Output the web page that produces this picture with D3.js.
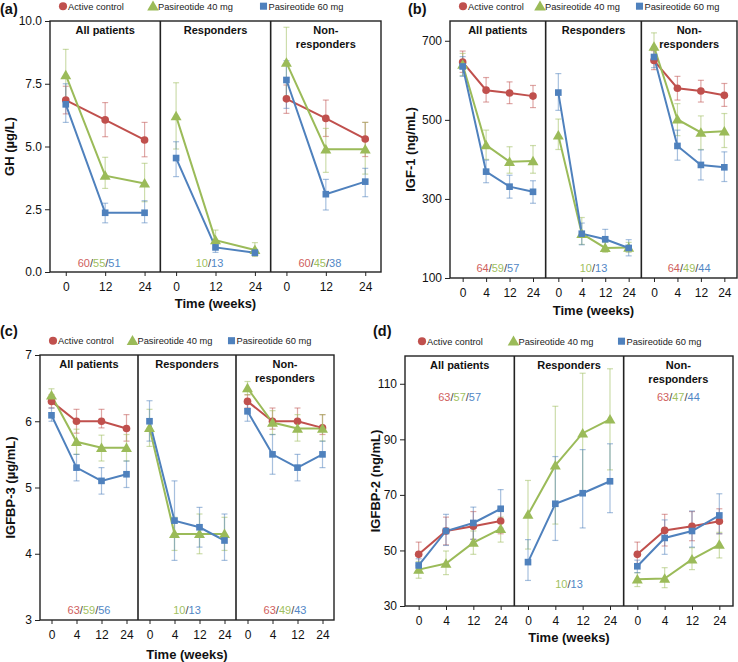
<!DOCTYPE html>
<html><head><meta charset="utf-8">
<script src="https://cdn.jsdelivr.net/npm/d3@7"></script>
<style>body{margin:0;background:#fff}svg{font-family:Arial,"Liberation Sans",sans-serif}</style>
</head><body><svg id="c" width="738" height="662"></svg>
<script>
// ---------------- data ----------------
const groupTitles = [["All patients"], ["Responders"], ["Non-", "responders"]];
const seriesNames = ["Active control", "Pasireotide 40 mg", "Pasireotide 60 mg"];
const seriesColors = ["#c0504d", "#9bbb59", "#4f81bd"];
const nColors = ["#d0605d", "#9fbf5f", "#5187c6"];

// (a) GH
const ghWeeks = ["0", "12", "24"];
const ghTicks = [0, 2.5, 5, 7.5, 10];
const ghN = [["60", "55", "51"], [null, "10", "13"], ["60", "45", "38"]];
const ghCtrl   = [[6.85, 6.06, 5.26], null, [6.90, 6.12, 5.30]];
const ghCtrlLo = [[6.30, 5.39, 4.59], null, [6.32, 5.40, 4.60]];
const ghCtrlHi = [[7.40, 6.75, 5.96], null, [7.45, 6.85, 5.96]];
const gh40   = [[7.85, 3.84, 3.53], [6.21, 1.27, 0.88], [8.34, 4.89, 4.89]];
const gh40Lo = [[6.80, 3.33, 2.80], [4.90, 0.95, 0.62], [7.00, 3.97, 3.90]];
const gh40Hi = [[8.87, 4.57, 4.33], [7.54, 1.67, 1.17], [9.75, 5.72, 5.96]];
const gh60   = [[6.68, 2.36, 2.36], [4.54, 0.98, 0.77], [7.65, 3.10, 3.60]];
const gh60Lo = [[5.96, 1.96, 1.96], [3.80, 0.78, 0.65], [6.52, 2.47, 3.00]];
const gh60Hi = [[7.50, 2.74, 2.84], [5.19, 1.20, 0.90], [8.42, 3.69, 4.13]];

// (b) IGF-1
const igfWeeks = ["0", "4", "12", "24"];
const igfTicks = [100, 300, 500, 700];
const igfN = [["64", "59", "57"], [null, "10", "13"], ["64", "49", "44"]];
const igfCtrl   = [[646, 575, 568, 560], null, [650, 580, 573, 562]];
const igfCtrlLo = [[620, 545, 541, 531], null, [627, 550, 545, 534]];
const igfCtrlHi = [[674, 607, 596, 587], null, [675, 610, 600, 592]];
const igf40   = [[640, 436, 394, 396], [461, 212, 176, 177], [685, 501, 468, 471]];
const igf40Lo = [[612, 400, 365, 365], [425, 185, 165, 165], [650, 460, 425, 430]];
const igf40Hi = [[668, 474, 432, 435], [502, 253, 190, 190], [720, 541, 510, 516]];
const igf60   = [[635, 369, 331, 318], [569, 212, 198, 176], [659, 434, 386, 380]];
const igf60Lo = [[610, 341, 302, 289], [524, 184, 176, 156], [632, 398, 348, 344]];
const igf60Hi = [[660, 398, 360, 346], [617, 239, 223, 197], [685, 474, 424, 419]];

// (c) IGFBP-3
const bp3Weeks = ["0", "4", "12", "24"];
const bp3Ticks = [3, 4, 5, 6, 7];
const bp3N = [["63", "59", "56"], [null, "10", "13"], ["63", "49", "43"]];
const bp3Ctrl   = [[6.30, 6.00, 6.00, 5.89], null, [6.30, 6.00, 6.00, 5.90]];
const bp3CtrlLo = [[6.20, 5.82, 5.90, 5.70], null, [6.20, 5.88, 5.88, 5.80]];
const bp3CtrlHi = [[6.40, 6.18, 6.18, 6.10], null, [6.40, 6.20, 6.20, 6.10]];
const bp340   = [[6.39, 5.69, 5.60, 5.60], [5.90, 4.30, 4.30, 4.30], [6.50, 5.98, 5.89, 5.89]];
const bp340Lo = [[6.29, 5.50, 5.40, 5.40], [5.62, 4.05, 4.00, 4.05], [6.40, 5.80, 5.70, 5.70]];
const bp340Hi = [[6.49, 5.88, 5.79, 5.80], [6.18, 4.55, 4.60, 4.55], [6.60, 6.16, 6.10, 6.10]];
const bp360   = [[6.09, 5.30, 5.10, 5.20], [6.00, 4.50, 4.40, 4.20], [6.15, 5.50, 5.30, 5.50]];
const bp360Lo = [[6.00, 5.10, 4.90, 5.00], [5.70, 3.90, 4.10, 3.90], [6.00, 5.20, 5.10, 5.30]];
const bp360Hi = [[6.20, 5.50, 5.30, 5.40], [6.31, 5.10, 4.70, 4.60], [6.30, 5.80, 5.50, 5.70]];

// (d) IGFBP-2
const bp2Weeks = ["0", "4", "12", "24"];
const bp2Ticks = [30, 50, 70, 90, 110];
const bp2N = [["63", "57", "57"], [null, "10", "13"], ["63", "47", "44"]];
const bp2Ctrl   = [[48.6, 57.0, 58.7, 60.6], null, [48.6, 57.2, 58.7, 60.5]];
const bp2CtrlLo = [[44.5, 52.0, 54.0, 56.0], null, [44.5, 51.6, 53.5, 56.0]];
const bp2CtrlHi = [[53.0, 62.0, 64.0, 65.0], null, [53.0, 63.0, 64.0, 65.0]];
const bp240   = [[43.1, 45.3, 52.8, 57.8], [62.9, 80.6, 92.2, 97.2], [39.6, 39.9, 46.8, 52.1]];
const bp240Lo = [[40.0, 41.3, 48.6, 53.0], [50.5, 59.5, 70.6, 79.0], [37.0, 36.6, 43.1, 47.3]];
const bp240Hi = [[46.0, 49.8, 57.0, 62.0], [75.2, 101.9, 113.8, 115.4], [42.0, 43.8, 51.0, 56.5]];
const bp260   = [[44.6, 57.0, 59.9, 65.0], [45.8, 66.8, 70.6, 74.9], [44.3, 54.5, 57.0, 62.6]];
const bp260Lo = [[42.0, 51.8, 54.0, 58.0], [39.2, 53.6, 58.1, 63.6], [42.0, 48.6, 51.2, 56.0]];
const bp260Hi = [[47.0, 63.0, 65.6, 71.9], [53.9, 83.8, 86.3, 88.4], [46.5, 61.0, 64.2, 70.4]];

// ---------------- drawing ----------------
const svg = d3.select("#c");
const symbols = [d3.symbolCircle, d3.symbolTriangle, d3.symbolSquare];
const symSizes = [46, 52, 44];

function drawPanel(o) {
  const root = svg.append("g");
  const y = d3.scaleLinear().domain(o.domain).range([o.bottom, o.top]);
  const subW = (o.right - o.left) / 3;
  const errG = root.append("g"), lineG = root.append("g"), markG = root.append("g");

  for (let s = 0; s < 3; s++) {
    const x0 = o.left + s * subW, x1 = x0 + subW, xc = (x0 + x1) / 2;
    const x = d3.scalePoint().domain(o.weeks).range([x0, x1]).padding(o.pad);
    const ax = root.append("g").attr("transform", `translate(0,${o.bottom})`)
      .call(d3.axisBottom(x).tickSize(4).tickPadding(6));
    ax.select(".domain").remove();
    ax.selectAll("text").attr("font-size", 12).attr("fill", "#111").attr("font-family", null);
    ax.selectAll("line").attr("stroke", "#222");

    o.series.forEach((ser, k) => {
      const vals = ser.mean[s];
      if (!vals) return;
      const pts = o.weeks.map((w, i) => ({ w, v: vals[i], lo: ser.lo[s][i], hi: ser.hi[s][i] }));
      const eg = errG.append("g").attr("stroke", seriesColors[k]).attr("stroke-opacity", 0.5).attr("stroke-width", 1.2);
      pts.forEach(p => {
        const cx = x(p.w);
        eg.append("line").attr("x1", cx).attr("x2", cx).attr("y1", y(p.lo)).attr("y2", y(p.hi));
        eg.append("line").attr("x1", cx - 3).attr("x2", cx + 3).attr("y1", y(p.lo)).attr("y2", y(p.lo));
        eg.append("line").attr("x1", cx - 3).attr("x2", cx + 3).attr("y1", y(p.hi)).attr("y2", y(p.hi));
      });
      lineG.append("path").datum(pts)
        .attr("d", d3.line().x(p => x(p.w)).y(p => y(p.v)))
        .attr("fill", "none").attr("stroke", seriesColors[k]).attr("stroke-width", 2);
      markG.selectAll(null).data(pts).enter().append("path")
        .attr("transform", p => `translate(${x(p.w)},${y(p.v) + (k === 1 ? 1 : 0)})`)
        .attr("d", d3.symbol().type(symbols[k]).size(symSizes[k]))
        .attr("fill", seriesColors[k]);
    });

    // title
    const t = root.append("text").attr("x", xc).attr("y", o.top + 13)
      .attr("text-anchor", "middle").attr("font-size", 11).attr("font-weight", "bold").attr("fill", "#111");
    groupTitles[s].forEach((line, i) => t.append("tspan").attr("x", xc).attr("dy", i === 0 ? 0 : 13.5).text(line));

    // n label
    const nl = root.append("text").attr("x", xc + (o.nDx || 0)).attr("y", o.nY[s])
      .attr("text-anchor", "middle").attr("font-size", 11);
    let first = true;
    o.n[s].forEach((v, k) => {
      if (v === null) return;
      if (!first) nl.append("tspan").attr("fill", "#444").text("/");
      nl.append("tspan").attr("fill", nColors[k]).text(v);
      first = false;
    });
  }

  // frame and dividers
  root.append("rect").attr("x", o.left).attr("y", o.top)
    .attr("width", o.right - o.left).attr("height", o.bottom - o.top)
    .attr("fill", "none").attr("stroke", "#222").attr("stroke-width", 1.4);
  for (let s = 1; s < 3; s++) {
    const xx = o.left + s * subW;
    root.append("line").attr("x1", xx).attr("x2", xx).attr("y1", o.top).attr("y2", o.bottom)
      .attr("stroke", "#222").attr("stroke-width", 1.6);
  }

  // y axis
  const ya = root.append("g").attr("transform", `translate(${o.left},0)`)
    .call(d3.axisLeft(y).tickValues(o.ticks).tickFormat(o.fmt).tickSize(5).tickPadding(3));
  ya.select(".domain").remove();
  ya.selectAll("text").attr("font-size", 12).attr("fill", "#111").attr("font-family", null);
  ya.selectAll("line").attr("stroke", "#222");

  // axis titles
  root.append("text").attr("transform", `translate(${o.ylabX},${(o.top + o.bottom) / 2}) rotate(-90)`)
    .attr("text-anchor", "middle").attr("dy", "0.35em").attr("font-size", 13).attr("font-weight", "bold")
    .attr("fill", "#111").text(o.ylab);
  root.append("text").attr("x", (o.left + o.right) / 2).attr("y", o.bottom + o.xlabDy)
    .attr("text-anchor", "middle").attr("font-size", 13).attr("font-weight", "bold")
    .attr("fill", "#111").text("Time (weeks)");

  // panel letter
  root.append("text").attr("x", o.letterX).attr("y", o.letterY)
    .attr("font-size", 14.5).attr("font-weight", "bold").attr("fill", "#111").text(o.letter);

  // legend
  seriesNames.forEach((name, k) => {
    const lx = o.legX[k];
    root.append("path").attr("transform", `translate(${lx},${o.legY - 3.3 + (k === 1 ? 1 : 0)})`)
      .attr("d", d3.symbol().type(symbols[k]).size(symSizes[k] + 6)).attr("fill", seriesColors[k]);
    root.append("text").attr("x", lx + 5).attr("y", o.legY).attr("font-size", 9.3)
      .attr("fill", "#222").text(name);
  });
}

drawPanel({
  letter: "(a)", letterX: 0, letterY: 13.5, legY: 9.5, legX: [63, 153, 263.5],
  left: 50, right: 381, top: 21, bottom: 272, domain: [0, 10], ticks: ghTicks, fmt: d3.format(".1f"),
  pad: 0.4, weeks: ghWeeks, ylab: "GH (µg/L)", ylabX: 9, xlabDy: 36, n: ghN, nY: [267, 267, 267], nDx: -6,
  series: [
    { mean: ghCtrl, lo: ghCtrlLo, hi: ghCtrlHi },
    { mean: gh40, lo: gh40Lo, hi: gh40Hi },
    { mean: gh60, lo: gh60Lo, hi: gh60Hi }
  ]
});

drawPanel({
  letter: "(b)", letterX: 408, letterY: 13.5, legY: 9.5, legX: [463, 540, 639.5],
  left: 450, right: 737, top: 21, bottom: 278, domain: [100, 750], ticks: igfTicks, fmt: d3.format("d"),
  pad: 0.54, weeks: igfWeeks, ylab: "IGF-1 (ng/mL)", ylabX: 410, xlabDy: 37, n: igfN, nY: [272, 272, 272],
  series: [
    { mean: igfCtrl, lo: igfCtrlLo, hi: igfCtrlHi },
    { mean: igf40, lo: igf40Lo, hi: igf40Hi },
    { mean: igf60, lo: igf60Lo, hi: igf60Hi }
  ]
});

drawPanel({
  letter: "(c)", letterX: 0, letterY: 336, legY: 344, legX: [53, 132.5, 231.5],
  left: 40, right: 334, top: 355, bottom: 620, domain: [3, 7], ticks: bp3Ticks, fmt: d3.format("d"),
  pad: 0.46, weeks: bp3Weeks, ylab: "IGFBP-3 (µg/mL)", ylabX: 10, xlabDy: 39, n: bp3N, nY: [614, 614, 614],
  series: [
    { mean: bp3Ctrl, lo: bp3CtrlLo, hi: bp3CtrlHi },
    { mean: bp340, lo: bp340Lo, hi: bp340Hi },
    { mean: bp360, lo: bp360Lo, hi: bp360Hi }
  ]
});

drawPanel({
  letter: "(d)", letterX: 373, letterY: 336, legY: 344.5, legX: [422, 513.5, 621.5],
  left: 405, right: 733, top: 356, bottom: 606, domain: [30, 120], ticks: bp2Ticks, fmt: d3.format("d"),
  pad: 0.5, weeks: bp2Weeks, ylab: "IGFBP-2 (ng/mL)", ylabX: 375, xlabDy: 36, n: bp2N, nY: [401, 588, 401],
  series: [
    { mean: bp2Ctrl, lo: bp2CtrlLo, hi: bp2CtrlHi },
    { mean: bp240, lo: bp240Lo, hi: bp240Hi },
    { mean: bp260, lo: bp260Lo, hi: bp260Hi }
  ]
});
</script>
</body></html>
